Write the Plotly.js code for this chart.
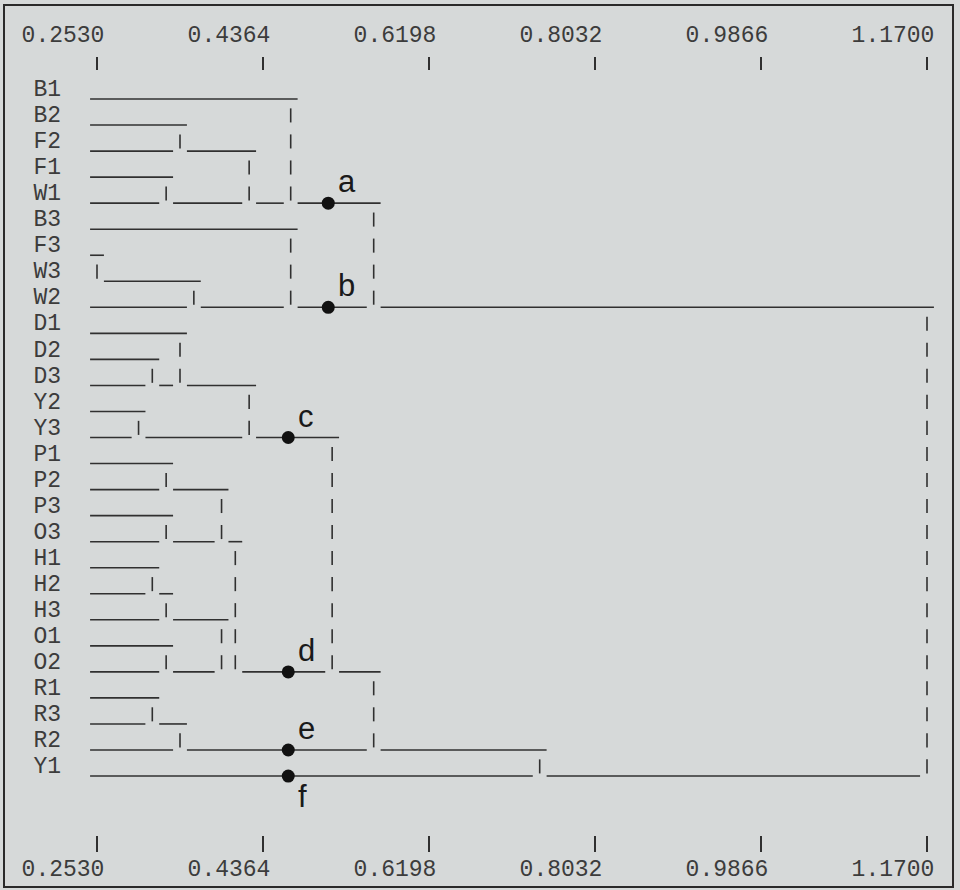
<!DOCTYPE html>
<html>
<head>
<meta charset="utf-8">
<script src="https://cdn.plot.ly/plotly-3.0.1.min.js"></script>
<style>
  html, body { margin: 0; padding: 0; background: #d6d9d9; }
  #chart { width: 960px; height: 890px; }
</style>
</head>
<body>
<div id="chart"></div>
<script>
// ---------- DATA ----------
const leaves = ['B1','B2','F2','F1','W1','B3','F3','W3','W2','D1','D2','D3','Y2','Y3',
                'P1','P2','P3','O3','H1','H2','H3','O1','O2','R1','R3','R2','Y1'];

// each merge joins the cluster ending at leaf mergeUpper[i] (above)
// with the cluster ending at leaf mergeLower[i] (below), at mergeHeight[i]
const mergeUpper = ['F3','Y2','D2','H1','R1','F1','P1','P3','H2','O1','B2','D1','R3',
                    'W3','P2','H3','O3','F2','D3','B1','B3','Y3','W1','O2','R2','W2'];
const mergeLower = ['W3','Y3','D3','H2','R3','W1','P2','O3','H3','O2','F2','D3','R2',
                    'W2','O3','O2','O2','W1','Y3','W1','W2','O2','W2','R2','Y1','Y1'];
const mergeHeight = [0.2530,0.2989,0.3141,0.3141,0.3141,0.3294,0.3294,0.3294,0.3294,0.3294,
                     0.3447,0.3447,0.3447,0.3600,0.3906,0.3906,0.4058,0.4211,0.4211,
                     0.4670,0.4670,0.5128,0.5587,0.5587,0.7421,1.1700];

const tickValues = [0.2530, 0.4364, 0.6198, 0.8032, 0.9866, 1.1700];
const tickLabels = ['0.2530','0.4364','0.6198','0.8032','0.9866','1.1700'];

const pointLabels = ['a','b','c','d','e','f'];
const pointLeaf   = ['W1','W2','Y3','O2','R2','Y1'];
const pointValue  = [0.5085, 0.5085, 0.4643, 0.4643, 0.4643, 0.4643];

// ---------- STYLE / GEOMETRY ----------
const W = 960, H = 890;
const M = {l: 66, r: 7, t: 57, b: 38};
const plotW = W - M.l - M.r, plotH = H - M.t - M.b;
const xPx0 = 97, xPx1 = 927;            // pixel positions of first/last tick
const pxPerUnit = (xPx1 - xPx0) / (tickValues[tickValues.length-1] - tickValues[0]);
const xr0 = tickValues[0] - (xPx0 - M.l) / pxPerUnit;
const xr1 = xr0 + plotW / pxPerUnit;
const rowPx = 26.04, row0Px = 99;
const yTop = -(row0Px - M.t) / rowPx;
const yBot = yTop + plotH / rowPx;
const COL = (tickValues[tickValues.length-1] - tickValues[0]) / 120; // one text column
const LINE = '#303030', MONO = 'Liberation Mono, Courier New, monospace';
const TXT = '#3c3c3c';

// ---------- BUILD DENDROGRAM SEGMENTS ----------
const rowOf = {}; leaves.forEach((n, i) => rowOf[n] = i);
const start = {}; leaves.forEach(n => start[n] = tickValues[0] - COL);
const hx = [], hy = [], vx = [], vy = [];
function hseg(x0, x1, r) { if (x1 > x0) { hx.push(x0, x1, null); hy.push(r, r, null); } }
for (let i = 0; i < mergeHeight.length; i++) {
  const u = mergeUpper[i], l = mergeLower[i], h = mergeHeight[i];
  const ru = rowOf[u], rl = rowOf[l];
  hseg(start[u], h + COL, ru);
  hseg(start[l], h - COL, rl);
  for (let r = ru + 1; r <= rl; r++) { vx.push(h, h, null); vy.push(r - 0.64, r - 0.1, null); }
  start[l] = h + COL;
}

const traces = [
  {x: hx, y: hy, mode: 'lines', line: {color: LINE, width: 1.6}, hoverinfo: 'skip', showlegend: false},
  {x: vx, y: vy, mode: 'lines', line: {color: LINE, width: 1.6}, hoverinfo: 'skip', showlegend: false},
  {x: pointValue, y: pointLeaf.map(n => rowOf[n]), xaxis: 'x2', mode: 'markers',
   marker: {color: '#111', size: 13}, hoverinfo: 'skip', showlegend: false}
];

const annotations = pointLabels.map((t, i) => ({
  x: pointValue[i], y: rowOf[pointLeaf[i]], xref: 'x', yref: 'y', text: t, showarrow: false,
  xanchor: 'left', yanchor: t === 'f' ? 'top' : 'bottom',
  xshift: 8, yshift: t === 'f' ? -1 : 2,
  font: {family: 'Liberation Sans, Arial, sans-serif', size: 31, color: '#1a1a1a'}
}));

const px2paperX = p => (p - M.l) / plotW;
const px2paperY = p => 1 - (p - M.t) / plotH;

const xCommon = {
  range: [xr0, xr1], tickmode: 'array', tickvals: tickValues, ticktext: tickLabels,
  ticks: 'inside', tickcolor: LINE, tickwidth: 1.6, showgrid: false, zeroline: false,
  showline: false, fixedrange: true, ticklabelshift: -34,
  tickfont: {family: MONO, size: 23, color: TXT}
};

const layout = {
  width: W, height: H, margin: M,
  paper_bgcolor: '#d6d9d9', plot_bgcolor: 'rgba(0,0,0,0)',
  showlegend: false,
  xaxis: Object.assign({}, xCommon, {side: 'top', ticklen: 13, ticklabelstandoff: 9}),
  xaxis2: Object.assign({}, xCommon, {side: 'bottom', overlaying: 'x', anchor: 'y', ticklen: 16, ticklabelstandoff: 0}),
  yaxis: {
    range: [yBot, yTop], tickmode: 'array', tickvals: leaves.map((n, i) => i - 0.42), ticktext: leaves,
    ticks: '', showgrid: false, zeroline: false, showline: false, fixedrange: true,
    ticklabelstandoff: 4, tickfont: {family: MONO, size: 23, color: TXT}
  },
  annotations: annotations,
  shapes: [{
    type: 'rect', xref: 'paper', yref: 'paper',
    x0: px2paperX(4), x1: px2paperX(953), y0: px2paperY(887), y1: px2paperY(5),
    line: {color: '#2a2a2a', width: 2}
  }]
};

Plotly.newPlot('chart', traces, layout, {staticPlot: true, displayModeBar: false});
</script>
</body>
</html>
